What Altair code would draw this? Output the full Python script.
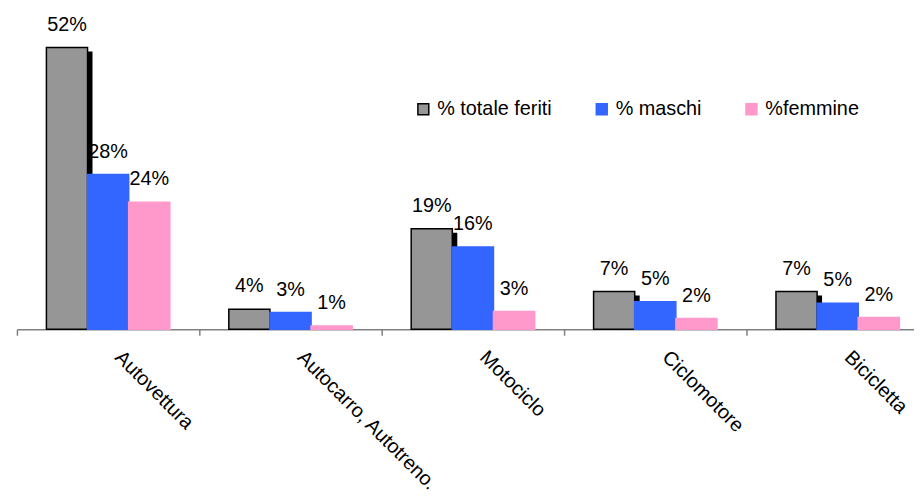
import altair as alt
import pandas as pd

categories = ["Autovettura", "Autocarro, Autotreno...", "Motociclo", "Ciclomotore", "Bicicletta"]
series = ["% totale feriti", "% maschi", "%femmine"]

totale = [52.1, 3.7, 18.6, 7.0, 7.0]
maschi = [28.6, 3.1, 15.2, 5.1, 4.8]
femmine = [23.5, 0.6, 3.3, 2.0, 2.2]

label_totale = ["52%", "4%", "19%", "7%", "7%"]
label_maschi = ["28%", "3%", "16%", "5%", "5%"]
label_femmine = ["24%", "1%", "3%", "2%", "2%"]

fills = ["#969696", "#3366FF", "#FF99CC"]
strokes = ["#000000", "#3366FF", "#FF99CC"]

rows = []
for i, c in enumerate(categories):
    for s, vals, labs in zip(series, [totale, maschi, femmine],
                             [label_totale, label_maschi, label_femmine]):
        rows.append({"cat": c, "series": s, "value": vals[i], "label": labs[i]})
df = pd.DataFrame(rows)

FONT = "Liberation Sans"

x_enc = alt.X(
    "cat:N", sort=categories,
    scale=alt.Scale(type="band", range=[0, 920], paddingInner=0, paddingOuter=0),
    axis=alt.Axis(title=None, bandPosition=0, labelAngle=45, labelAlign="left",
                  labelBaseline="alphabetic", labelOffset=6, labelPadding=23,
                  labelFontSize=20, labelFont=FONT, labelColor="black",
                  labelLimit=500, labelOverlap=False,
                  tickSize=6, tickColor="#808080", tickWidth=1.5,
                  domainColor="#808080", domainWidth=1.5, grid=False),
)
y_enc = alt.Y("value:Q", scale=alt.Scale(domain=[0, 59], nice=False, zero=True), axis=None)
xo_enc = alt.XOffset("series:N", sort=series,
                     scale=alt.Scale(type="band", domain=series,
                                     paddingInner=0, paddingOuter=0.717))

legend = alt.Legend(title=None, orient="none", legendX=400, legendY=90,
                    direction="horizontal", symbolType="square", symbolSize=121,
                    symbolStrokeWidth=1.5, labelFontSize=20, labelFont=FONT,
                    labelColor="black", labelOffset=4, columnPadding=40, padding=0)

base = alt.Chart(df)

shadow = base.transform_filter(alt.datum.series == series[0]).mark_bar(
    color="black", yOffset=4, clip=True
).encode(
    x=x_enc,
    xOffset=alt.XOffset("series:N", sort=series,
                        scale=alt.Scale(type="band", domain=series, range=[5, 189],
                                        paddingInner=0, paddingOuter=0.717)),
    y=y_enc,
)

bars = base.mark_bar(strokeWidth=1.5).encode(
    x=x_enc,
    xOffset=xo_enc,
    y=y_enc,
    color=alt.Color("series:N", sort=series,
                    scale=alt.Scale(domain=series, range=fills), legend=legend),
    stroke=alt.Stroke("series:N", sort=series,
                      scale=alt.Scale(domain=series, range=strokes), legend=legend),
)

texts = base.mark_text(font=FONT, fontSize=20, color="black",
                       baseline="alphabetic", align="center", dy=-17).encode(
    x=x_enc,
    xOffset=xo_enc,
    y=y_enc,
    text="label:N",
)

chart = alt.layer(shadow, bars, texts).resolve_scale(xOffset="independent").properties(
    width=905, height=322,
    autosize=alt.AutoSizeParams(type="none"),
    padding={"left": 9, "top": 0, "right": 0, "bottom": 160},
).configure_view(stroke=None)

chart.save("out.html", embed_options={"renderer": "svg", "actions": False})
